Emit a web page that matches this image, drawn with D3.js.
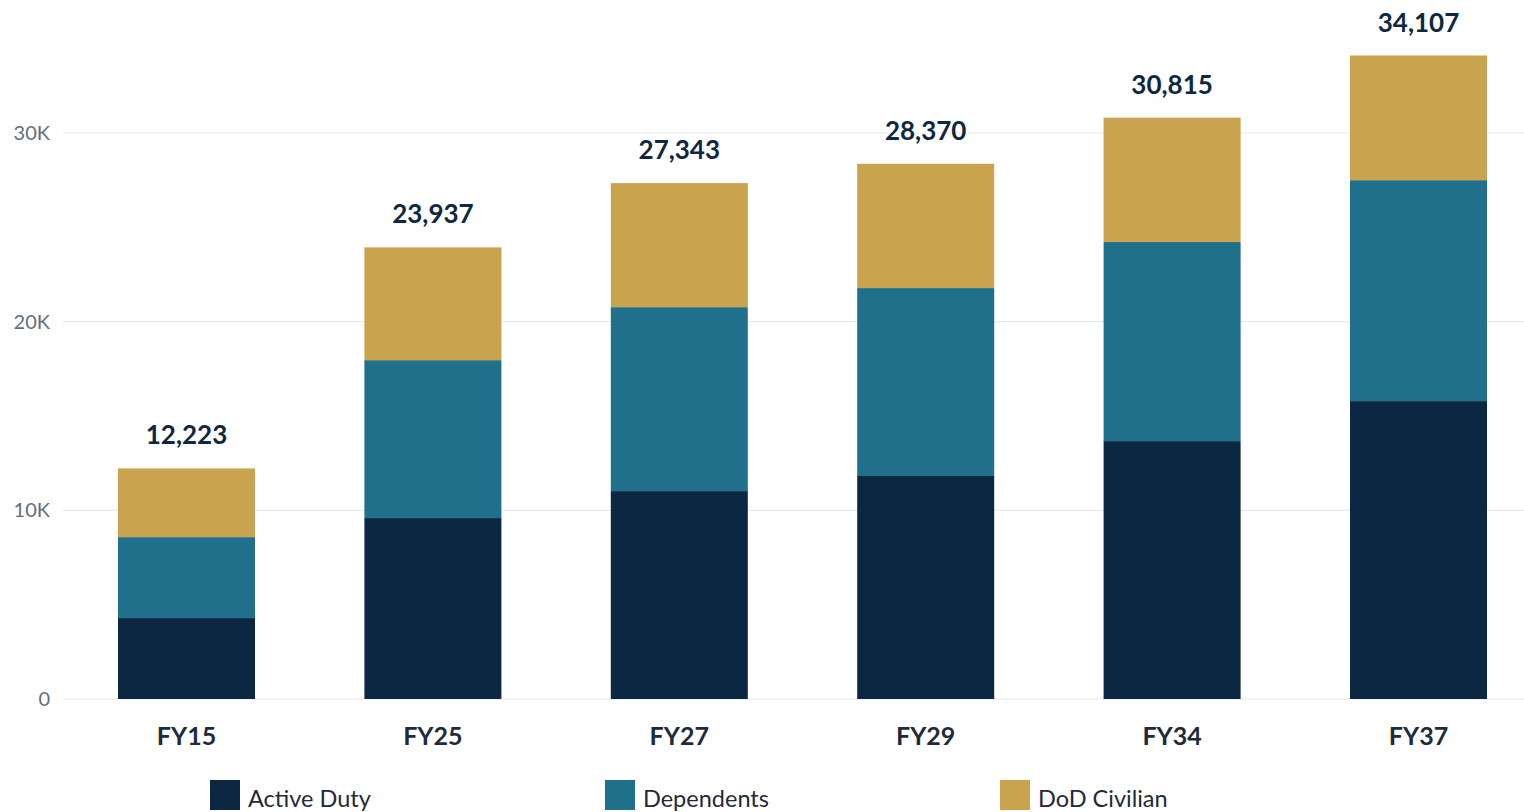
<!DOCTYPE html>
<html><head><meta charset="utf-8">
<script src="https://cdn.jsdelivr.net/npm/d3@7"></script>
<style>body{margin:0;background:#fff;}svg{display:block;font-family:Lato,"Open Sans",sans-serif;}</style>
</head><body>
<svg id="c" width="1524" height="812"></svg>
<script>
const categories = ["FY15","FY25","FY27","FY29","FY34","FY37"];
const activeDuty = [4290, 9590, 11020, 11820, 13670, 15790];
const dependents = [4290, 8370, 9750, 9960, 10550, 11710];
const totals = [12223, 23937, 27343, 28370, 30815, 34107];
const dodCivilian = totals.map((t,i)=>t-activeDuty[i]-dependents[i]);
const seriesNames = ["Active Duty","Dependents","DoD Civilian"];
const seriesColors = ["#0b2742","#20708b","#c9a34d"];
const yTicks = [0,10000,20000,30000];
const yTickLabels = ["0","10K","20K","30K"];

const svg = d3.select("#c");
const x = d3.scaleBand().domain(categories).range([63,1542]).paddingInner(0.444).paddingOuter(0.2232);
const y = d3.scaleLinear().domain([0,30000]).range([699,133]);

svg.append("g").selectAll("line").data(yTicks).join("line")
  .attr("x1",63).attr("x2",1524).attr("y1",d=>y(d)).attr("y2",d=>y(d))
  .attr("stroke","#e6ebf1").attr("stroke-width",1.2);
svg.append("g").selectAll("text").data(yTicks).join("text")
  .attr("x",50).attr("y",d=>y(d)+7).attr("text-anchor","end")
  .attr("font-size",20).attr("fill","#5f6f80").text((d,i)=>yTickLabels[i]);

const data = categories.map((c,i)=>({cat:c,"Active Duty":activeDuty[i],"Dependents":dependents[i],"DoD Civilian":dodCivilian[i]}));
const stack = d3.stack().keys(seriesNames)(data);
svg.append("g").selectAll("g").data(stack).join("g").attr("fill",(d,i)=>seriesColors[i])
  .selectAll("rect").data(d=>d).join("rect")
  .attr("x",d=>x(d.data.cat)).attr("width",x.bandwidth())
  .attr("y",d=>y(d[1])).attr("height",d=>y(d[0])-y(d[1]));

svg.append("g").selectAll("text").data(categories).join("text")
  .attr("x",d=>x(d)+x.bandwidth()/2).attr("y",(d,i)=>y(totals[i])-24)
  .attr("text-anchor","middle").attr("font-size",26).attr("font-weight","bold").attr("fill","#0f2740")
  .text((d,i)=>d3.format(",")(totals[i]));

svg.append("g").selectAll("text").data(categories).join("text")
  .attr("x",d=>x(d)+x.bandwidth()/2).attr("y",745)
  .attr("text-anchor","middle").attr("font-size",25).attr("font-weight","bold").attr("fill","#1f2a3a")
  .text(d=>d);

const legX = [210,605,1000];
const leg = svg.append("g").selectAll("g").data(seriesNames).join("g")
  .attr("transform",(d,i)=>`translate(${legX[i]},780)`);
leg.append("rect").attr("width",30).attr("height",30).attr("fill",(d,i)=>seriesColors[i]);
leg.append("text").attr("x",38).attr("y",27).attr("font-size",23.5).attr("fill","#1f2a3a").text(d=>d);
</script>
</body></html>
